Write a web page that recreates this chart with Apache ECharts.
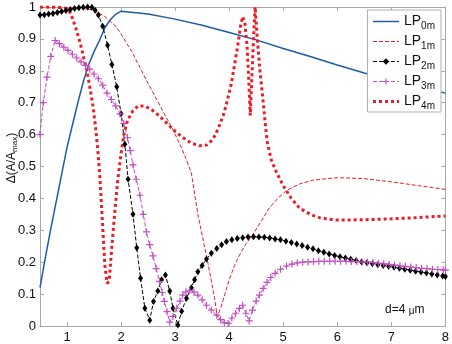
<!DOCTYPE html>
<html>
<head>
<meta charset="utf-8">
<script src="https://cdn.jsdelivr.net/npm/echarts@6/dist/echarts.min.js"></script>
<style>
  html, body { margin: 0; padding: 0; background: #fff; }
  #chart { width: 452px; height: 344px; }
</style>
</head>
<body>
<div id="chart"></div>
<script>
// tick positions
const X_TICKS = [1, 2, 3, 4, 5, 6, 7, 8];

// [d (um), dA/Amax]
const LP0M = [[0.5,0.12],[0.6,0.215],[0.7,0.305],[0.8,0.39],[0.9,0.475],[1.0,0.56],[1.1,0.63],[1.2,0.7],
  [1.3,0.765],[1.4,0.82],[1.5,0.86],[1.6,0.895],[1.7,0.935],[1.8,0.96],[1.9,0.977],[2.0,0.987],
  [2.5,0.978],[3.0,0.962],[3.5,0.943],[4.0,0.92],[4.5,0.897],[5.0,0.87],[5.5,0.845],[6.0,0.818],
  [6.5,0.793],[7.0,0.77],[7.5,0.75],[8.0,0.73]];

const LP1M = [[0.5,0.998],[1.0,0.997],[1.3,0.995],[1.5,0.99],[1.7,0.97],[1.9,0.94],[2.0,0.915],[2.2,0.86],
  [2.35,0.81],[2.5,0.76],[2.66,0.71],[2.8,0.665],[2.96,0.615],[3.1,0.565],[3.2,0.525],[3.3,0.48],
  [3.42,0.35],[3.5,0.285],[3.58,0.22],[3.66,0.15],[3.73,0.087],[3.78,0.03],[3.85,0.06],[3.92,0.1],
  [4.0,0.145],[4.1,0.19],[4.2,0.225],[4.3,0.255],[4.43,0.285],[4.6,0.33],[4.74,0.37],[4.9,0.4],
  [5.06,0.425],[5.3,0.445],[5.54,0.457],[6.0,0.465],[6.5,0.462],[7.0,0.452],[7.5,0.44],[8.0,0.428]];

const LP2M = [[0.5,0.975],[0.58,0.976],[0.66,0.978],[0.74,0.98],[0.82,0.983],[0.9,0.986],[0.98,0.989],
  [1.06,0.992],[1.14,0.995],[1.22,0.998],[1.3,0.999],[1.38,1.0],[1.46,0.999],[1.52,0.99],[1.58,0.975],
  [1.66,0.94],[1.75,0.88],[1.83,0.82],[1.92,0.75],[2.0,0.665],[2.07,0.57],[2.13,0.46],[2.22,0.35],
  [2.29,0.245],[2.36,0.15],[2.44,0.056],[2.53,0.018],[2.6,0.077],[2.68,0.11],[2.75,0.145],[2.82,0.16],
  [2.9,0.11],[2.96,0.056],[3.05,0.003],[3.12,0.046],[3.21,0.087],[3.3,0.12],[3.36,0.145],[3.42,0.17],
  [3.5,0.19],[3.58,0.21],[3.67,0.228],[3.77,0.243],[3.86,0.255],[3.95,0.265],[4.05,0.27],[4.15,0.274],
  [4.25,0.277],[4.35,0.279],[4.45,0.28],[4.55,0.279],[4.65,0.278],[4.75,0.276],[4.85,0.273],[4.95,0.27],
  [5.05,0.266],[5.15,0.262],[5.25,0.257],[5.35,0.252],[5.45,0.247],[5.55,0.242],[5.65,0.236],[5.75,0.231],
  [5.85,0.226],[5.95,0.221],[6.05,0.217],[6.15,0.213],[6.25,0.209],[6.35,0.205],[6.45,0.201],[6.55,0.198],
  [6.65,0.195],[6.75,0.192],[6.85,0.19],[6.95,0.187],[7.05,0.184],[7.15,0.181],[7.25,0.178],[7.35,0.175],
  [7.45,0.172],[7.55,0.169],[7.65,0.166],[7.75,0.163],[7.85,0.16],[7.95,0.157],[8.0,0.155]];

const LP3M = [[0.5,0.6],[0.56,0.7],[0.63,0.78],[0.7,0.845],[0.78,0.895],[0.86,0.885],[0.94,0.874],
  [1.02,0.864],[1.1,0.852],[1.18,0.84],[1.26,0.828],[1.34,0.817],[1.42,0.805],[1.5,0.79],[1.58,0.775],
  [1.66,0.755],[1.74,0.73],[1.82,0.71],[1.9,0.69],[1.98,0.665],[2.05,0.635],[2.12,0.59],[2.17,0.55],
  [2.22,0.505],[2.28,0.46],[2.35,0.41],[2.41,0.35],[2.47,0.295],[2.53,0.255],[2.59,0.22],[2.65,0.18],
  [2.71,0.14],[2.76,0.105],[2.8,0.077],[2.85,0.045],[2.9,0.012],[2.96,0.03],[3.03,0.056],[3.09,0.078],
  [3.14,0.097],[3.2,0.107],[3.27,0.112],[3.35,0.106],[3.42,0.097],[3.5,0.082],[3.58,0.065],[3.67,0.05],
  [3.77,0.034],[3.84,0.02],[3.91,0.01],[3.98,0.008],[4.05,0.025],[4.12,0.04],[4.19,0.055],[4.25,0.065],
  [4.31,0.04],[4.37,0.016],[4.43,0.05],[4.5,0.078],[4.56,0.097],[4.63,0.118],[4.7,0.137],[4.77,0.152],
  [4.85,0.165],[4.95,0.178],[5.06,0.188],[5.16,0.194],[5.26,0.198],[5.36,0.2],[5.46,0.201],[5.56,0.202],
  [5.66,0.203],[5.76,0.203],[5.86,0.203],[5.96,0.203],[6.06,0.203],[6.16,0.203],[6.26,0.202],[6.36,0.202],
  [6.46,0.201],[6.56,0.2],[6.66,0.199],[6.76,0.197],[6.86,0.195],[6.96,0.193],[7.06,0.191],[7.16,0.189],
  [7.26,0.187],[7.36,0.185],[7.46,0.183],[7.56,0.181],[7.66,0.18],[7.76,0.178],[7.86,0.177],[7.96,0.176],
  [8.0,0.175]];

const LP4M = [[0.5,1.0],[0.7,1.0],[0.9,0.998],[1.0,0.995],[1.05,0.985],[1.1,0.965],[1.17,0.93],[1.24,0.89],
  [1.31,0.84],[1.37,0.8],[1.43,0.74],[1.48,0.69],[1.53,0.62],[1.57,0.55],[1.61,0.46],[1.64,0.37],
  [1.67,0.28],[1.7,0.19],[1.74,0.134],[1.78,0.14],[1.83,0.25],[1.88,0.35],[1.94,0.46],[2.0,0.54],
  [2.05,0.6],[2.12,0.645],[2.22,0.675],[2.32,0.69],[2.42,0.69],[2.55,0.68],[2.7,0.66],[2.85,0.635],
  [3.0,0.61],[3.15,0.59],[3.3,0.573],[3.45,0.565],[3.58,0.567],[3.7,0.585],[3.8,0.62],[3.9,0.665],
  [3.97,0.71],[4.04,0.76],[4.1,0.82],[4.16,0.88],[4.21,0.94],[4.25,0.97],[4.29,0.95],[4.33,0.88],
  [4.36,0.78],[4.39,0.66],[4.42,0.78],[4.45,0.9],[4.48,1.0],[4.52,0.9],[4.57,0.8],[4.63,0.7],
  [4.7,0.58],[4.78,0.52],[4.88,0.48],[5.0,0.44],[5.15,0.4],[5.3,0.37],[5.5,0.35],[5.7,0.338],
  [6.0,0.332],[6.5,0.333],[7.0,0.336],[7.5,0.34],[8.0,0.345]];

const FONT = 'Liberation Sans, Arial, sans-serif';
const BOX = '#a8a8a8';
const RED = '#ec1c24';
const BLUE = '#1f5aa8';
const MAG = '#c14fc0';
const PLUS = 'path://M3,0h1.2v3h3v1.2h-3v3h-1.2v-3h-3v-1.2h3z';

const chart = echarts.init(document.getElementById('chart'));

const xBase = {
  type: 'value', min: 0.5, max: 8,
  axisLine: { show: true, onZero: false, lineStyle: { color: BOX, width: 1 } },
  axisTick: { show: true, inside: true, length: 4, customValues: X_TICKS, lineStyle: { color: BOX } },
  splitLine: { show: false },
};
const yBase = {
  type: 'value', min: 0, max: 1, interval: 0.1,
  axisLine: { show: true, onZero: false, lineStyle: { color: BOX, width: 1 } },
  axisTick: { show: true, inside: true, length: 4, lineStyle: { color: BOX } },
  splitLine: { show: false },
};

const noMark = { opacity: 0 };

chart.setOption({
  animation: false,
  backgroundColor: '#fff',
  textStyle: { fontFamily: FONT },
  grid: { left: 40, right: 6, top: 7, bottom: 16 },
  xAxis: [
    { ...xBase, position: 'bottom',
      axisLabel: { customValues: X_TICKS, color: '#111', fontSize: 13, margin: 5, fontFamily: FONT } },
    { ...xBase, position: 'top', axisLabel: { show: false } },
  ],
  yAxis: [
    { ...yBase, position: 'left',
      axisLabel: { color: '#111', fontSize: 13, margin: 4, fontFamily: FONT } },
    { ...yBase, position: 'right', axisLabel: { show: false } },
  ],
  legend: {
    orient: 'vertical',
    right: 11, top: 10,
    data: [
      { name: 'LP0m', itemStyle: noMark, lineStyle: { color: BLUE, width: 1.5, type: 'solid' } },
      { name: 'LP1m', itemStyle: noMark, lineStyle: { color: RED, width: 1, type: [4, 2] } },
      { name: 'LP2m', lineStyle: { color: '#000', width: 1, type: [4, 2] } },
      { name: 'LP3m', lineStyle: { color: MAG, width: 1, type: [4, 2] } },
      { name: 'LP4m', itemStyle: noMark, lineStyle: { color: RED, width: 3, type: [3, 3] } },
    ],
    backgroundColor: '#fff',
    borderColor: '#b0b0b0', borderWidth: 1,
    padding: [3, 6, 1, 4],
    itemWidth: 26, itemHeight: 8, itemGap: 2,
    formatter: n => 'LP{s|' + n.slice(2) + '}',
    textStyle: {
      color: '#111', fontSize: 14, fontFamily: FONT, lineHeight: 17,
      rich: { s: { fontSize: 10, fontFamily: FONT, color: '#111', padding: [9, 0, 0, 0] } },
    },
  },
  graphic: [
    {
      type: 'text', x: 12, y: 158, rotation: Math.PI / 2,
      style: {
        text: '\u0394(A/A{s|max})',
        font: '12px ' + FONT, fill: '#111',
        align: 'center', verticalAlign: 'middle',
        rich: { s: { fontSize: 8, fontFamily: FONT, fill: '#111', padding: [6, 0, 0, 0] } },
      },
    },
    {
      type: 'text', x: 385, y: 310,
      style: {
        text: 'd=4 {u|\u03bc}m',
        font: '12px ' + FONT, fill: '#111',
        align: 'left', verticalAlign: 'middle',
        rich: { u: { fontSize: 10, fontFamily: FONT, fill: '#111', padding: [3, 0, 0, 0] } },
      },
    },
  ],
  series: [
    { name: 'LP0m', type: 'line', data: LP0M, symbol: 'none',
      lineStyle: { color: BLUE, width: 1.5 }, itemStyle: { color: BLUE } },
    { name: 'LP1m', type: 'line', data: LP1M, symbol: 'none',
      lineStyle: { color: RED, width: 1, type: [4, 2] }, itemStyle: { color: RED } },
    { name: 'LP2m', type: 'line', data: LP2M, symbol: 'diamond', symbolSize: [5, 7],
      lineStyle: { color: '#000', width: 1, type: [4, 2] }, itemStyle: { color: '#000' } },
    { name: 'LP3m', type: 'line', data: LP3M, symbol: PLUS, symbolSize: 7,
      lineStyle: { color: MAG, width: 1, type: [4, 2] }, itemStyle: { color: MAG } },
    { name: 'LP4m', type: 'line', data: LP4M, symbol: 'none',
      lineStyle: { color: RED, width: 3, type: [3, 3] }, itemStyle: { color: RED } },
  ],
});
</script>
</body>
</html>
